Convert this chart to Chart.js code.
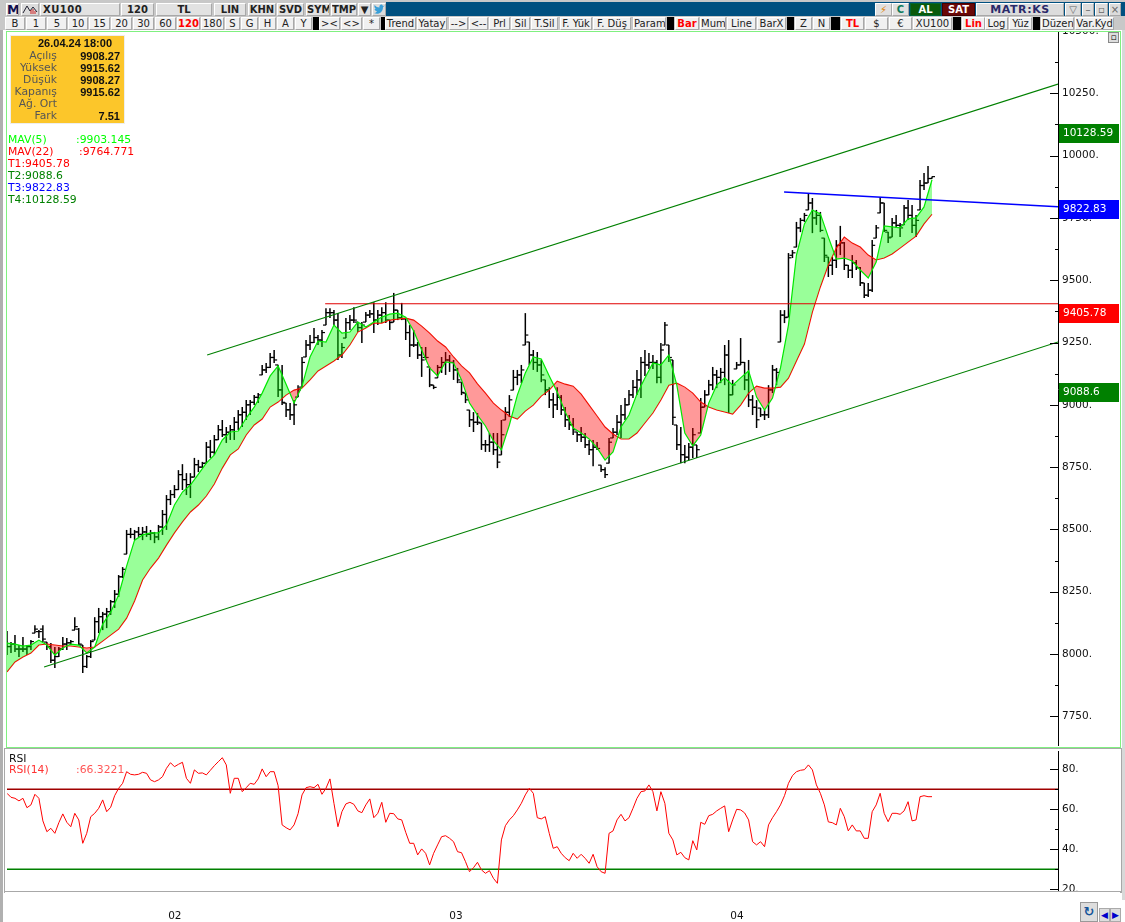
<!DOCTYPE html>
<html>
<head>
<meta charset="utf-8">
<title>XU100</title>
<script src="https://cdn.jsdelivr.net/npm/chart.js@4"></script>
<style>
html, body { margin: 0; padding: 0; background: #fff; width: 1125px; height: 922px; overflow: hidden; }
body, div { font-family: "DejaVu Sans", sans-serif; font-size: 10.8px; }
.abs { position: absolute; white-space: nowrap; }
.btn { position: absolute; box-sizing: border-box; text-align: center; background: #f0f0f0; color: #222; font-size: 10px;
       border: 1px solid #a8a8a8; border-top-color: #fff; border-left-color: #fff; overflow: hidden; white-space: nowrap; }
canvas { position: absolute; }
.txt { position: absolute; white-space: nowrap; line-height: 12px; }
.bold { font-family: "Liberation Sans", sans-serif; font-weight: bold; font-size: 11px; }
</style>
</head>
<body>
<div class="abs" style="left:0;top:0;width:1125px;height:2px;background:#c8c8c8"></div>
<div class="abs" style="left:386px;top:2px;width:739px;height:14px;background:#005080"></div>
<div class="abs" style="left:0;top:2px;width:386px;height:14px;background:#c8c8c8"></div>
<div class="abs" style="left:0;top:16px;width:1125px;height:14px;background:#c8c8c8"></div>
<div class="abs" style="left:0;top:30px;width:3px;height:892px;background:#b0b0b0"></div>
<div class="abs" style="left:1122px;top:30px;width:3px;height:870px;background:#d8d8d8"></div>
<div id="toolbar"></div>

<!-- fiyat paneli -->
<div class="abs" style="left:6px;top:31px;width:1113px;height:715px;border:1px solid #80f080"></div>
<canvas id="grafik-fiyat" width="1112" height="714" style="left:7px;top:32px"></canvas>
<div class="abs" style="left:1108px;top:32px;width:11px;height:11px;box-sizing:border-box;background:#ddd;border:1px solid #888;text-align:center;line-height:8px;font-size:9px">▫</div>

<div class="abs" style="left:10px;top:35px;width:113px;height:87px;background:#fcc62a;border:1px solid #eee"></div>
<div class="txt bold" style="left:38px;top:37px;color:#111">26.04.24 18:00</div>
<div id="ohlc-box"></div>
<div id="legend-fiyat"></div>

<!-- RSI paneli -->
<div class="abs" style="left:4px;top:748px;width:1116px;height:143px;border:1px solid #a8a8a8;box-sizing:content-box"></div>
<canvas id="grafik-rsi" width="1112" height="170" style="left:7px;top:751px"></canvas>
<div class="abs" style="left:5px;top:892px;width:1115px;height:7px;background:#fff"></div>
<div class="abs" style="left:4px;top:891px;width:1117px;height:1px;background:#a8a8a8"></div>
<div class="txt" style="left:9px;top:753px;color:#111">RSI</div>
<div class="txt" style="left:9px;top:764px;color:#f33">RSI(14)</div>
<div class="txt" style="left:76px;top:764px;color:#f55">:66.3221</div>

<div class="abs" style="left:1080px;top:902px;width:18px;height:20px;box-sizing:border-box;background:#ddd;border:1px solid #999;color:#15559a;text-align:center;font-weight:bold;font-size:13px;line-height:17px">↻</div>
<div class="abs" style="left:1099px;top:908px;width:11px;height:14px;box-sizing:border-box;background:#ddd;border:1px solid #aaa;color:#00c;text-align:center;font-size:9px;line-height:12px">◀</div>
<div class="abs" style="left:1110px;top:908px;width:11px;height:14px;box-sizing:border-box;background:#ddd;border:1px solid #aaa;color:#00c;text-align:center;font-size:9px;line-height:12px">▶</div>

<script>
function $id(id) { return document.getElementById(id); }

// degerler
const barHigh = [8092,8048,8076,8036,8068,8036,8056,8116,8096,8116,8048,8044,8028,8028,8068,8064,8056,8148,8104,8036,7996,8056,8148,8185,8169,8185,8217,8257,8317,8349,8498,8506,8498,8510,8510,8514,8498,8490,8518,8578,8638,8658,8678,8738,8762,8726,8726,8787,8779,8771,8851,8859,8879,8919,8939,8911,8919,8951,8979,8991,9019,9019,9039,9047,9160,9168,9208,9220,9160,9160,9007,9007,9019,9079,9192,9260,9280,9308,9280,9300,9388,9388,9380,9368,9248,9348,9360,9392,9332,9332,9372,9380,9412,9380,9392,9412,9340,9449,9380,9409,9348,9320,9300,9252,9232,9232,9152,9079,9160,9192,9212,9200,9180,9148,9091,9047,8979,8971,8967,8927,8859,8887,8887,8887,8939,8991,9039,9140,9140,9160,9368,9252,9220,9212,9180,9100,9071,9047,9071,9039,8991,8959,8947,8891,8911,8887,8859,8859,8851,8758,8750,8867,8907,8959,8999,9027,9059,9100,9140,9192,9220,9208,9200,9180,9248,9332,9240,9180,8919,8911,8839,8847,8907,8839,9027,9059,9100,9152,9140,9148,9240,9260,9100,9172,9268,9172,9180,9039,9019,8987,8979,9079,9160,9148,9380,9380,9609,9621,9734,9750,9770,9850,9830,9782,9774,9669,9593,9593,9661,9718,9653,9561,9601,9581,9553,9489,9489,9661,9722,9834,9810,9693,9750,9762,9730,9802,9822,9802,9762,9902,9930,9958,9915.62];
const barLow = [7996,8004,8008,7988,8008,7996,8016,8084,8064,8048,8016,7964,7944,7988,8016,8016,8036,8096,8036,7924,7944,7984,8056,8084,8096,8104,8157,8185,8229,8305,8401,8465,8457,8470,8457,8470,8457,8445,8457,8478,8498,8598,8626,8658,8658,8638,8626,8710,8730,8746,8766,8787,8799,8859,8871,8847,8859,8859,8899,8911,8939,8959,8999,9007,9120,9128,9148,9168,9031,8999,8951,8939,8919,9031,9071,9192,9220,9248,9240,9232,9320,9348,9320,9180,9188,9268,9300,9328,9292,9248,9332,9348,9288,9320,9328,9328,9300,9332,9340,9340,9260,9192,9232,9184,9112,9180,9071,9063,9108,9128,9120,9132,9100,9087,9039,9007,8911,8891,8919,8819,8811,8811,8799,8746,8799,8939,8951,9059,9079,9087,9240,9160,9140,9132,9091,9039,8987,8947,8979,8959,8911,8899,8879,8851,8851,8827,8799,8754,8819,8730,8706,8766,8867,8879,8867,8939,8999,9027,9039,9027,9116,9144,9144,9087,9087,9240,9172,8919,8819,8766,8766,8778,8787,8787,8887,8991,9039,9059,9067,9087,9079,8967,9039,9144,9160,9059,8991,8959,8907,8951,8939,8947,9047,9079,9252,9328,9352,9589,9633,9693,9734,9782,9689,9722,9693,9573,9513,9521,9549,9601,9541,9509,9509,9541,9477,9429,9433,9453,9669,9770,9693,9649,9673,9710,9673,9722,9742,9689,9673,9782,9862,9890,9908.27];
const barOpen = [8050,8030,8040,8020,8020,8020,8030,8084,8090,8100,8048,8030,7975,7990,8020,8040,8045,8096,8100,8036,7950,7990,8056,8130,8150,8160,8170,8210,8240,8310,8401,8480,8480,8490,8480,8490,8480,8485,8470,8510,8560,8620,8640,8660,8720,8700,8680,8710,8760,8750,8766,8830,8810,8860,8900,8880,8890,8900,8930,8960,8970,9000,9010,9030,9120,9140,9150,9190,9160,9060,9007,8980,8960,9031,9071,9192,9240,9250,9270,9260,9320,9370,9370,9340,9200,9268,9330,9340,9332,9310,9332,9360,9365,9340,9360,9370,9340,9332,9380,9350,9345,9290,9240,9240,9200,9190,9152,9079,9108,9150,9170,9180,9170,9140,9091,9047,8979,8940,8930,8927,8840,8840,8850,8820,8799,8939,8970,9059,9110,9120,9240,9252,9200,9170,9160,9100,9060,9020,9000,9030,8980,8940,8920,8891,8880,8870,8840,8820,8830,8758,8740,8766,8867,8890,8930,8960,9000,9040,9070,9100,9170,9160,9170,9170,9110,9240,9240,9180,8919,8840,8800,8790,8830,8839,8887,8991,9040,9080,9120,9110,9130,9200,9040,9144,9160,9170,9100,9020,8990,8987,8960,8960,9060,9140,9252,9360,9352,9600,9633,9710,9740,9782,9810,9750,9760,9669,9593,9560,9580,9640,9650,9560,9540,9570,9550,9489,9440,9460,9669,9770,9810,9693,9673,9730,9720,9722,9790,9760,9720,9782,9880,9890,9908.27];
const barClose = [8030,8040,8020,8020,8020,8030,8050,8100,8090,8060,8030,7975,7990,8020,8040,8045,8050,8110,8040,7950,7990,8050,8130,8150,8160,8170,8210,8240,8310,8340,8480,8480,8490,8480,8490,8480,8485,8470,8510,8560,8620,8640,8660,8720,8700,8680,8710,8760,8750,8765,8830,8810,8860,8900,8880,8890,8900,8930,8960,8970,9000,9010,9030,9040,9140,9150,9190,9180,9060,9010,8980,8960,9000,9060,9170,9240,9250,9270,9260,9290,9370,9370,9340,9200,9230,9330,9340,9340,9310,9320,9360,9365,9340,9360,9370,9340,9330,9380,9350,9345,9290,9240,9240,9200,9180,9190,9080,9070,9150,9170,9180,9170,9140,9100,9050,9020,8940,8930,8930,8840,8840,8850,8820,8770,8880,8970,9020,9110,9120,9140,9280,9200,9170,9160,9120,9060,9020,9000,9030,8980,8940,8920,8900,8880,8870,8840,8820,8830,8825,8740,8720,8850,8890,8930,8960,9000,9040,9070,9100,9170,9160,9170,9170,9110,9220,9320,9190,8950,8840,8800,8790,8830,8880,8820,8990,9040,9080,9120,9110,9130,9200,9040,9080,9160,9170,9100,9020,8990,8940,8960,8960,9060,9140,9130,9360,9350,9590,9610,9710,9740,9760,9810,9750,9760,9700,9600,9560,9580,9640,9650,9560,9540,9570,9550,9490,9440,9460,9640,9710,9810,9700,9670,9730,9720,9710,9790,9760,9720,9740,9880,9890,9908,9915.62];
const mav5 = [8044,8040,8032,8036,8056,8036,7996,8024,8040,8036,8004,8028,8120,8168,8237,8353,8457,8478,8486,8486,8518,8598,8650,8678,8722,8766,8799,8859,8891,8895,8947,8991,9047,9116,9156,9083,9007,9075,9192,9256,9252,9320,9288,9292,9332,9312,9332,9352,9364,9368,9352,9296,9220,9148,9116,9172,9168,9100,9007,8959,8915,8855,8819,8919,9039,9128,9192,9184,9116,9051,8971,8907,8887,8863,8827,8778,8811,8911,8959,9043,9108,9168,9160,9200,9079,8887,8835,8879,9007,9079,9108,9079,9108,9136,9031,8979,9027,9148,9320,9601,9726,9782,9766,9673,9585,9589,9577,9541,9509,9573,9718,9714,9710,9746,9750,9794,9903.145];
const mav22 = [7928,7968,7988,8004,8036,8040,8036,8032,8032,8028,8024,8028,8052,8076,8100,8144,8213,8297,8345,8385,8437,8486,8530,8570,8598,8634,8682,8746,8799,8823,8879,8919,8943,8991,9011,9039,9059,9067,9100,9136,9156,9176,9200,9240,9292,9308,9328,9328,9340,9344,9348,9340,9316,9288,9256,9232,9192,9156,9128,9084,9047,9007,8979,8955,8943,8975,8999,9035,9059,9095,9083,9075,9043,8999,8955,8911,8883,8863,8863,8887,8927,8967,9019,9079,9087,9071,9047,9011,8991,8979,8971,8963,8999,9047,9075,9067,9067,9071,9107,9176,9244,9372,9473,9561,9629,9673,9649,9633,9601,9581,9589,9605,9629,9653,9677,9726,9764.771];
const rsi14 = [68,66,65.5,64.2,65.5,60.8,62.2,67.5,65.5,54.2,48.8,50.5,48,53.3,57.7,53.5,51.3,58,54.7,43,48,56.3,58,60.5,64.7,58.8,61,66.8,70.5,73,78.8,77.5,77.2,77.5,78.5,78,74.7,73.8,74.7,76.3,80.5,83.3,81.3,82.5,83.5,75.5,73,79.7,78,78.2,77.2,79.5,81.8,83.8,85.8,82.2,68,75.5,75.5,68.8,70.8,73,72.5,75.2,80.2,76.3,78.8,78.8,71.8,52.2,50.8,49.7,52.2,57.8,67.2,70.8,71.3,70.8,72.5,67.5,70.5,75.2,63,51.3,58.8,62.7,63.5,62.5,59.2,58.3,62.2,65.2,55.8,58,63.5,53.5,58,57.8,55.2,54.7,48.5,43,43,37.2,40.2,38,32.2,38,42.2,46.3,46.8,45.5,43.8,38.8,38.3,33.8,28.8,30.8,33.5,29.7,28,29.3,25.5,23,44.7,51.8,54.7,56.8,59.7,63,67.2,70.5,68,55.8,55.2,56.3,48,40.5,41.3,38,35.8,34.3,38,35.5,37.5,35.5,33,37.5,31.3,28.8,28,48,49.2,54.7,57.5,54.2,55.8,60.5,65.5,68.8,69.2,72.2,68.8,59.2,68.8,63,48,44.7,37.2,38.5,35.8,34.7,44.3,39.7,53.5,52.5,56.8,57.5,59.2,60.5,61.7,48.8,54.7,60,59.7,58.2,54.7,43.8,42.2,43.8,41.3,52.2,55.8,58.8,62.2,66.8,73,76.8,78.8,79.5,79.8,82.2,79.7,72.2,68,62.2,53.7,53.3,52.2,60.5,56.3,49.2,52.2,49.2,49.2,45.5,45.5,58.8,62.2,68,58,53.8,58,58,57.5,59.2,63.8,54.2,54.7,66.3,66.8,66.3,66.32];

// trend cizgileri: bar numarasi / fiyat
const upperTrendX = [50.2, 263.6];
const upperTrend = [9200, 10287];
const lowerTrendX = [9.3, 263.6];
const lowerTrend = [7948, 9252];
const flatTrendX = [79.8, 263.6];
const flatTrend = [9405.78, 9405.78];
const blueTrendX = [194.9, 263.6];
const blueTrend = [9854, 9795];

const priceTicks = [7750,7875,8000,8125,8250,8375,8500,8625,8750,8875,9000,9125,9250,9375,9500,9625,9750,9875,10000,10125,10250,10375,10500];
const rsiTicks = [20,30,40,50,60,70,80];
const monthTicks = [42.1, 112.6, 183.1];
const monthLabels = ["02", "03", "04"];

const boxValues = [10128.59, 9822.83, 9405.78, 9088.6];
const boxLabels = ["10128.59", "9822.83", "9405.78", "9088.6"];
const boxColors = ["#008000", "#0000ff", "#ff0000", "#008000"];

const lastBarX = 263.6;
const ohlcNames = ["Açılış", "Yüksek", "Düşük", "Kapanış", "Ağ. Ort", "Fark"];
const ohlcValues = ["9908.27", "9915.62", "9908.27", "9915.62", "", "7.51"];

const toolbarTop = [
    ["XU100",40,80,"text-align:left;padding-left:2px;letter-spacing:.5px"],["120",121,33],["TL",156,56],["LIN",214,32],["KHN",248,28],["SVD",277,27],
    ["SYM",306,24],["TMP",331,26],["▼",358,13,"color:#114"]
];
const toolbarBottom = [
    ["B",5,20],["1",26,20],["5",47,20],["10",68,20],["15",89,21],["20",111,21],["30",133,21],["60",155,21],["120",177,23,"#f00"],["180",201,23],
    ["S",225,15],["G",241,17],["H",259,17],["A",277,17],["Y",295,17],[null,313,6],["><",319,21],["<>",341,21],["*",363,17],[null,381,4],
    ["Trend",385,31],["Yatay",417,30],["-->",449,19],["<--",469,19],["Prl",489,21],["Sil",511,19],["T.Sil",531,27],["F. Yük",560,32],["F. Düş",593,38],["Param",633,33],
    [null,667,7],["Bar",675,24,"#f00"],["Mum",700,26],["Line",727,29],["BarX",757,29],[null,787,7],["Z",795,17],["N",813,17],[null,831,9],
    ["TL",841,23,"#f00"],["$",865,23],["€",889,23],["XU100",913,39],[null,953,8],["Lin",962,23,"#f00"],["Log",985,23],["Yüz",1009,23],[null,1033,7],["Düzen",1041,33],["Var.Kyd",1075,39]
];

function addButton(label, left, width, top, height, color, extra) {
    let el = document.createElement("div");
    el.className = "btn";
    el.style.cssText = `left:${left}px;top:${top}px;width:${width}px;height:${height}px;line-height:${height-2}px;${extra||""}`;
    if (color) el.style.color = color;
    el.textContent = label;
    $id("toolbar").appendChild(el);
    return el;
}

addButton("M", 6, 13, 3, 13, "#101050", "background:#e8e8e8;font-weight:bold;font-size:13px");
addButton("", 21, 18, 3, 13, null, "background:#dcdcdc").innerHTML =
    '<svg width="16" height="11" style="display:block"><path d="M1 9 L5 2 L8 7 L11 3 L15 8" fill="none" stroke="#223" stroke-width="1"/><path d="M9 10V6M11 10V5M13 10V7" stroke="#d02020" stroke-width="1"/></svg>';
toolbarTop.forEach(b => addButton(b[0], b[1], b[2], 3, 13, "#222", "font-weight:bold;background:#e2e2e2;font-size:10px;" + (b[3] || "")));
addButton("", 372, 14, 3, 13, null, "background:#dcdcdc").innerHTML =
    '<svg width="12" height="11" style="display:block"><path d="M1 9 C5 11 10 9 10 3 L12 1.5 L10 2 L9 0.5 C7 0 6 2 6.5 3.5 C4 3.5 2.5 2 1.5 1 C1 3 2 4.5 3 5 L1.5 5 C2 6.5 3 7 4 7.5 C3 8.5 2 9 1 9 Z" fill="#3a9fd8"/></svg>';
toolbarBottom.forEach(b => {
    if (b[0] === null) {
        addButton("", b[1], b[2], 17, 13, null, "background:#000;border:none");
        return;
    }
    addButton(b[0], b[1], b[2], 17, 13, b[3] || "#222", b[3] ? "font-weight:bold" : "");
});
addButton("⚡", 875, 17, 3, 13, "#e08000", "background:#e0e0e0");
addButton("C", 892, 17, 3, 13, "#0a7a5a", "background:#e0e0e0;font-weight:bold");
addButton("AL", 910, 31, 3, 13, "#fff", "background:#0a5a0a;border-color:#063;font-weight:bold");
addButton("SAT", 942, 33, 3, 13, "#fff", "background:#6a0808;border-color:#400;font-weight:bold");
addButton("MATR:KS", 976, 88, 3, 13, "#2a2a6a", "background:#dcdcdc;font-weight:bold;font-size:11px;letter-spacing:.6px");
addButton("▽", 1065, 16, 3, 13, "#666", "background:#dcdcdc");
addButton("–", 1082, 12, 3, 13, "#666", "background:#dcdcdc");
addButton("▫", 1095, 13, 3, 13, "#666", "background:#dcdcdc");
addButton("×", 1109, 12, 3, 13, "#666", "background:#dcdcdc");

ohlcNames.forEach((name, i) => {
    let top = 50 + i * 12;
    $id("ohlc-box").innerHTML += `<div class="txt" style="right:1068px;top:${top}px;color:#555">${name}</div>` +
        `<div class="txt bold" style="right:1005px;top:${top}px;color:#111">${ohlcValues[i]}</div>`;
});

const legendRows = [
    ["MAV(5)", "#00ff00", ":9903.145", 76],
    ["MAV(22)", "#ff0000", ":9764.771", 79],
    ["T1:9405.78", "#ff0000"],
    ["T2:9088.6", "#008000"],
    ["T3:9822.83", "#0000ff"],
    ["T4:10128.59", "#008000"]
];
legendRows.forEach((row, i) => {
    let top = 134 + i * 12;
    $id("legend-fiyat").innerHTML += `<div class="txt" style="left:8px;top:${top}px;color:${row[1]}">${row[0]}</div>`;
    if (row[2]) $id("legend-fiyat").innerHTML += `<div class="txt" style="left:${row[3]}px;top:${top}px;color:${row[1]}">${row[2]}</div>`;
});

const axisFont = { family: "DejaVu Sans", size: 10.5 };

// eksen cizgileri: etiketli olan uzun, digerleri kisa
const tickMarks = {
    id: "tickMarks",
    afterDraw(chart) {
        const scale = chart.scales.y, ctx = chart.ctx;
        ctx.save();
        ctx.strokeStyle = "#000";
        ctx.lineWidth = 1;
        scale.ticks.forEach(t => {
            const y = Math.round(scale.getPixelForValue(t.value)) + 0.5;
            const len = t.label ? 8 : 3;
            ctx.beginPath();
            ctx.moveTo(scale.left - len, y);
            ctx.lineTo(scale.left, y);
            ctx.stroke();
        });
        ctx.restore();
    }
};

const valueBoxes = {
    id: "valueBoxes",
    afterDraw(chart) {
        const scale = chart.scales.y, ctx = chart.ctx;
        ctx.save();
        boxValues.forEach((value, i) => {
            const top = Math.round(scale.getPixelForValue(value));
            ctx.fillStyle = boxColors[i];
            ctx.fillRect(scale.left + 1, top, 60, 19);
            ctx.fillStyle = "#fff";
            ctx.font = "10.5px 'DejaVu Sans'";
            ctx.textBaseline = "middle";
            ctx.fillText(boxLabels[i], scale.left + 5, top + 9);
        });
        ctx.restore();
    }
};

function fixRightAxis(width) {
    return scale => {
        scale.width = width;
        scale.paddingTop = 0;
        scale.paddingBottom = 0;
    };
}

function trendLine(xs, ys, color, order, width) {
    return {
        type: "line",
        data: xs.map((x, i) => ({ x: x, y: ys[i] })),
        borderColor: color,
        borderWidth: width || 1.1,
        pointRadius: 0,
        order: order
    };
}

window.grafikFiyat = new Chart($id("grafik-fiyat"), {
    type: "line",
    data: {
        datasets: [
            {
                type: "bar",
                data: barHigh.map((h, i) => ({ x: i, y: [barLow[i], h] })),
                backgroundColor: "#000",
                barThickness: 1.5,
                inflateAmount: 0,
                order: 10
            },
            {
                type: "line",
                showLine: false,
                data: barOpen.map((v, i) => ({ x: i - 0.35, y: v })),
                pointStyle: "line",
                pointRadius: 1.6,
                pointBorderColor: "#000",
                pointBorderWidth: 1.2,
                order: 9
            },
            {
                type: "line",
                showLine: false,
                data: barClose.map((v, i) => ({ x: i + 0.35, y: v })),
                pointStyle: "line",
                pointRadius: 1.6,
                pointBorderColor: "#000",
                pointBorderWidth: 1.2,
                order: 8
            },
            {
                type: "line",
                data: mav5.map((v, i) => ({ x: i * 2, y: v })),
                borderColor: "#00e800",
                borderWidth: 1.2,
                pointRadius: 0,
                fill: { target: "+1", above: "rgba(0,255,0,0.4)", below: "rgba(255,0,0,0.4)" },
                order: 2
            },
            {
                type: "line",
                data: mav22.map((v, i) => ({ x: i * 2, y: v })),
                borderColor: "#ff0000",
                borderWidth: 1.1,
                pointRadius: 0,
                order: 3
            },
            trendLine(upperTrendX, upperTrend, "#008000", 1),
            trendLine(lowerTrendX, lowerTrend, "#008000", 1),
            trendLine(flatTrendX, flatTrend, "#e00000", 1),
            trendLine(blueTrendX, blueTrend, "#0000ff", 1, 1.5)
        ]
    },
    options: {
        responsive: false,
        animation: false,
        devicePixelRatio: 1,
        layout: { padding: 0, autoPadding: false },
        plugins: { legend: { display: false }, tooltip: { enabled: false } },
        scales: {
            x: { type: "linear", min: 0, max: lastBarX, display: false, offset: false },
            y: {
                position: "right",
                min: 7631,
                max: 10496,
                afterBuildTicks: scale => { scale.ticks = priceTicks.map(v => ({ value: v })); },
                afterFit: fixRightAxis(61),
                grid: { drawOnChartArea: false, drawTicks: false },
                border: { display: true, color: "#000", width: 1 },
                ticks: {
                    autoSkip: false,
                    padding: 4,
                    color: "#111",
                    font: axisFont,
                    callback: v => (v % 250 === 0 ? v + "." : "")
                }
            }
        }
    },
    plugins: [tickMarks, valueBoxes]
});

window.grafikRsi = new Chart($id("grafik-rsi"), {
    type: "line",
    data: {
        datasets: [
            trendLine([0, lastBarX], [70, 70], "#a00000", 2, 1.5),
            trendLine([0, lastBarX], [30, 30], "#008000", 2, 1.5),
            {
                data: rsi14.map((v, i) => ({ x: i, y: v })),
                borderColor: "#ff0000",
                borderWidth: 1,
                pointRadius: 0,
                order: 1
            }
        ]
    },
    options: {
        responsive: false,
        animation: false,
        devicePixelRatio: 1,
        layout: { padding: 0, autoPadding: false },
        plugins: { legend: { display: false }, tooltip: { enabled: false } },
        scales: {
            x: {
                type: "linear",
                min: 0,
                max: lastBarX,
                offset: false,
                afterBuildTicks: scale => { scale.ticks = monthTicks.map(v => ({ value: v })); },
                afterFit: scale => { scale.height = 31; scale.paddingLeft = 0; scale.paddingRight = 0; },
                grid: { display: false },
                border: { display: false },
                ticks: {
                    autoSkip: false,
                    maxRotation: 0,
                    padding: 12,
                    color: "#111",
                    font: axisFont,
                    callback: (v, i) => monthLabels[i]
                }
            },
            y: {
                position: "right",
                min: 19.65,
                max: 89.15,
                afterBuildTicks: scale => { scale.ticks = rsiTicks.map(v => ({ value: v })); },
                afterFit: fixRightAxis(61),
                grid: { drawOnChartArea: false, drawTicks: false },
                border: { display: true, color: "#000", width: 1 },
                ticks: {
                    autoSkip: false,
                    padding: 4,
                    color: "#111",
                    font: axisFont,
                    callback: v => (v % 20 === 0 ? v + "." : "")
                }
            }
        }
    },
    plugins: [tickMarks]
});
</script>
</body>
</html>
